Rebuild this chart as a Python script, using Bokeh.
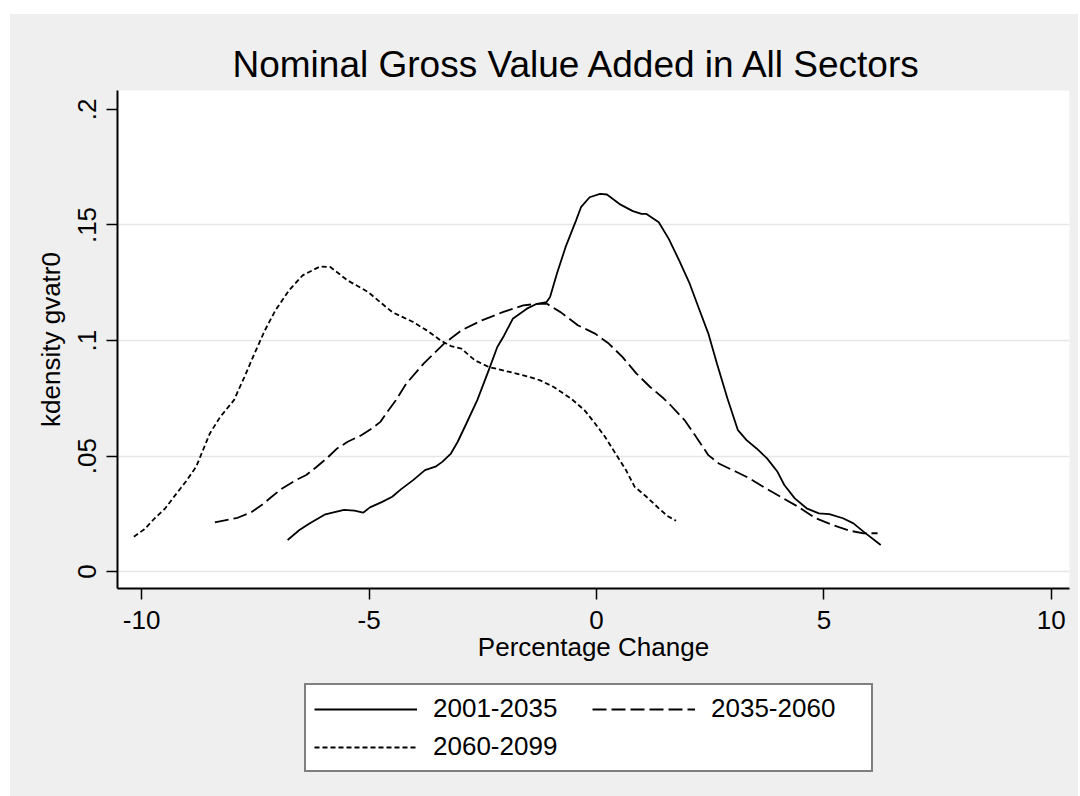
from bokeh.plotting import figure
from bokeh.models import Range1d, FixedTicker, Legend, LegendItem
from bokeh.layouts import column
from bokeh.embed import file_html
from bokeh.resources import INLINE

# ---- data ----
s1_name = "2001-2035"
s1_x = [-6.79, -6.53, -6.30, -5.96, -5.55, -5.32, -5.13, -4.98, -4.71, -4.49, -4.30, -4.03,
        -3.77, -3.54, -3.39, -3.20, -3.05, -2.86, -2.62, -2.37, -2.18, -2.03, -1.84, -1.53,
        -1.31, -1.10, -1.02, -0.87, -0.68, -0.45, -0.34, -0.15, 0.08, 0.23, 0.53, 0.80,
        0.99, 1.10, 1.37, 1.59, 1.82, 2.05, 2.24, 2.46, 2.65, 2.88, 3.11, 3.30, 3.52, 3.75,
        3.98, 4.13, 4.36, 4.62, 4.89, 5.12, 5.42, 5.65, 5.87, 6.25]
s1_y = [0.0137, 0.0180, 0.0209, 0.0248, 0.0267, 0.0264, 0.0255, 0.0278, 0.0302, 0.0324, 0.0356, 0.0396,
        0.0439, 0.0454, 0.0475, 0.0511, 0.0562, 0.0641, 0.0742, 0.0871, 0.0972, 0.1022, 0.1094, 0.1138,
        0.1159, 0.1166, 0.1188, 0.1289, 0.1404, 0.1519, 0.1577, 0.1620, 0.1635, 0.1632, 0.1588, 0.1560,
        0.1548, 0.1548, 0.1512, 0.1440, 0.1346, 0.1246, 0.1145, 0.1030, 0.0900, 0.0749, 0.0612, 0.0569,
        0.0533, 0.0490, 0.0432, 0.0375, 0.0317, 0.0274, 0.0252, 0.0249, 0.0231, 0.0209, 0.0173, 0.0115]

s2_name = "2035-2060"
s2_x = [-8.39, -7.89, -7.59, -7.36, -7.14, -6.91, -6.61, -6.38, -6.15, -5.93, -5.70, -5.47,
        -5.17, -4.94, -4.75, -4.60, -4.41, -4.18, -3.80, -3.35, -2.97, -2.52, -2.06, -1.61,
        -1.31, -1.09, -0.79, -0.41, -0.03, 0.27, 0.57, 0.88, 1.18, 1.48, 1.63, 1.94, 2.24,
        2.46, 2.69, 3.07, 3.37, 3.68, 4.05, 4.43, 4.82, 5.19, 5.57, 5.87, 6.18]
s2_y = [0.0213, 0.0233, 0.0257, 0.0288, 0.0324, 0.0360, 0.0396, 0.0418, 0.0454, 0.0490, 0.0533, 0.0562,
        0.0590, 0.0619, 0.0648, 0.0691, 0.0742, 0.0814, 0.0900, 0.0987, 0.1044, 0.1087, 0.1123, 0.1152,
        0.1159, 0.1159, 0.1123, 0.1066, 0.1030, 0.0987, 0.0929, 0.0857, 0.0799, 0.0749, 0.0720, 0.0655, 0.0569,
        0.0504, 0.0468, 0.0432, 0.0403, 0.0365, 0.0324, 0.0281, 0.0231, 0.0202, 0.0177, 0.0166, 0.0166]

s3_name = "2060-2099"
s3_x = [-10.17, -9.94, -9.71, -9.48, -9.26, -9.03, -8.80, -8.65, -8.50, -8.27, -7.97, -7.74,
        -7.52, -7.29, -7.06, -6.76, -6.46, -6.08, -5.85, -5.47, -5.02, -4.71, -4.49, -4.03,
        -3.73, -3.43, -3.20, -2.97, -2.67, -2.37, -1.91, -1.46, -1.24, -0.94, -0.56, -0.26,
        -0.03, 0.19, 0.42, 0.65, 0.84, 1.10, 1.37, 1.56, 1.75]
s3_y = [0.0151, 0.0183, 0.0231, 0.0274, 0.0331, 0.0389, 0.0454, 0.0526, 0.0598, 0.0670, 0.0742, 0.0842,
        0.0943, 0.1044, 0.1130, 0.1217, 0.1282, 0.1320, 0.1318, 0.1260, 0.1210, 0.1159, 0.1123, 0.1080,
        0.1044, 0.1001, 0.0976, 0.0965, 0.0914, 0.0886, 0.0864, 0.0842, 0.0828, 0.0799, 0.0749, 0.0698,
        0.0641, 0.0583, 0.0511, 0.0439, 0.0367, 0.0324, 0.0274, 0.0241, 0.0220]

x_ticks = [-10, -5, 0, 5, 10]
x_tick_labels = ["-10", "-5", "0", "5", "10"]
y_ticks = [0, 0.05, 0.1, 0.15, 0.2]
y_tick_labels = ["0", ".05", ".1", ".15", ".2"]
y_grid_ticks = [0, 0.05, 0.1, 0.15]

title_text = "Nominal Gross Value Added in All Sectors"
x_label = "Percentage Change"
y_label = "kdensity gvatr0"

FONT = "Liberation Sans"
BG = "#efefef"
DASH2 = "14 5"
DASH3 = "5 3"
LW = 1.8
NAN = float("nan")

# ---------------- main plot ----------------
p = figure(width=1068, height=662, output_backend="svg", toolbar_location=None,
           x_range=Range1d(-10.53, 10.40), y_range=Range1d(-0.0073, 0.2082),
           min_border_left=107, min_border_right=9, min_border_top=76, min_border_bottom=88)

p.background_fill_color = "white"
p.border_fill_color = BG
p.outline_line_color = None

p.title.text = title_text
p.title.text_font = FONT
p.title.text_font_size = "37px"
p.title.text_font_style = "normal"
p.title.text_color = "black"
p.title.align = "left"
p.title.offset = 115
p.title.standoff = 12

p.xgrid.visible = False
p.ygrid.ticker = FixedTicker(ticks=y_grid_ticks)
p.ygrid.grid_line_color = "#e6e6e6"
p.ygrid.grid_line_width = 1.5

for ax in (p.xaxis[0], p.yaxis[0]):
    ax.axis_line_color = "black"
    ax.axis_line_width = 2
    ax.major_tick_line_color = "black"
    ax.major_tick_line_width = 1.5
    ax.major_tick_in = 0
    ax.major_tick_out = 11
    ax.minor_tick_line_color = None
    ax.major_label_text_font = FONT
    ax.major_label_text_font_size = "26px"
    ax.major_label_text_color = "black"
    ax.axis_label_text_font = FONT
    ax.axis_label_text_font_size = "26px"
    ax.axis_label_text_font_style = "normal"
    ax.axis_label_text_color = "black"

p.xaxis.ticker = FixedTicker(ticks=x_ticks)
p.xaxis.major_label_overrides = dict(zip(x_ticks, x_tick_labels))
p.xaxis.axis_label = x_label
p.xaxis.major_label_standoff = 11
p.xaxis.axis_label_standoff = 0

p.yaxis.ticker = FixedTicker(ticks=y_ticks)
p.yaxis.major_label_overrides = dict(zip(y_ticks, y_tick_labels))
p.yaxis.major_label_orientation = "vertical"
p.yaxis.axis_label = y_label
p.yaxis.major_label_standoff = 10
p.yaxis.axis_label_standoff = 10

p.line(s1_x, s1_y, line_color="black", line_width=LW)
p.line(s2_x, s2_y, line_color="black", line_width=LW, line_dash=DASH2)
p.line(s3_x, s3_y, line_color="black", line_width=LW, line_dash=DASH3)

# ---------------- legend strip (frame aligned with the main plot) ----------------
q = figure(width=1068, height=120, output_backend="svg", toolbar_location=None,
           x_range=Range1d(0, 1), y_range=Range1d(0, 1),
           x_axis_type=None, y_axis_type=None, min_border=0,
           min_border_left=107, min_border_right=9)
q.background_fill_color = None
q.border_fill_color = None
q.outline_line_color = None
q.xgrid.visible = False
q.ygrid.visible = False

k1 = q.line([NAN, NAN], [NAN, NAN], line_color="black", line_width=LW)
k2 = q.line([NAN, NAN], [NAN, NAN], line_color="black", line_width=LW, line_dash=DASH2)
k3 = q.line([NAN, NAN], [NAN, NAN], line_color="black", line_width=LW, line_dash=DASH3)

legend = Legend(items=[LegendItem(label=s1_name, renderers=[k1]),
                       LegendItem(label=s2_name, renderers=[k2]),
                       LegendItem(label=s3_name, renderers=[k3])],
                orientation="horizontal", ncols=2, location=(187, 24))
legend.label_text_font = FONT
legend.label_text_font_size = "26px"
legend.label_text_color = "black"
legend.label_text_line_height = 1.0
legend.glyph_width = 103
legend.glyph_height = 28
legend.label_height = 28
legend.label_width = 152
legend.label_standoff = 16
legend.padding = 8
legend.spacing = 7
legend.margin = 0
legend.border_line_color = "black"
legend.border_line_width = 2
legend.background_fill_color = "white"
legend.background_fill_alpha = 1.0
q.add_layout(legend, "center")

layout = column(p, q, spacing=0, margin=(14, 0, 0, 10), styles={"background-color": BG})
open("out.html", "w").write(file_html(layout, INLINE))
